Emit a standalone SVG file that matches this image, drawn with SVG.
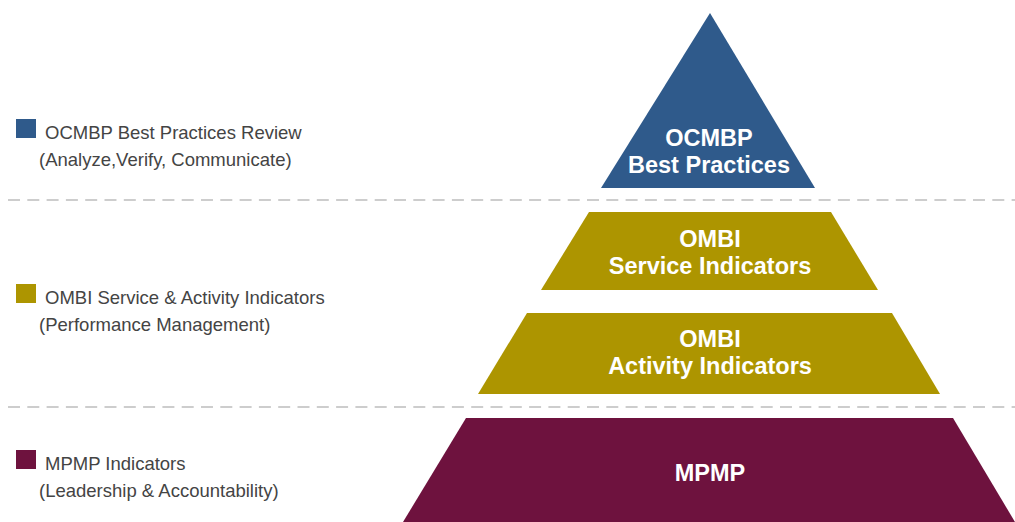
<svg xmlns="http://www.w3.org/2000/svg" width="1015" height="522" viewBox="0 0 1015 522">
<style>
.sep{stroke:#bdbdbd;stroke-width:1.6;stroke-dasharray:12 7.3;fill:none}
.lbl{font-family:"Liberation Sans",Arial,sans-serif;font-weight:bold;font-size:23.5px;fill:#ffffff;text-anchor:middle}
.leg{font-family:"Liberation Sans",Arial,sans-serif;font-size:18.5px;fill:#444444}
.blue{fill:#2f5a8b}
.gold{fill:#ad9500}
.maroon{fill:#6e123e}
</style>
<rect width="1015" height="522" fill="#ffffff"/>
<g id="separators">
<line class="sep" x1="8" y1="200" x2="1015" y2="200"/>
<line class="sep" x1="8" y1="407" x2="1015" y2="407"/>
</g>
<g id="node-ocmbp">
<polygon class="blue" points="710,13 815,188 601,188"/>
<text class="lbl" x="709" y="146">OCMBP</text>
<text class="lbl" x="709" y="172.5">Best Practices</text>
</g>
<g id="node-ombi-service">
<polygon class="gold" points="589,212 831,212 878,290 541,290"/>
<text class="lbl" x="710" y="247">OMBI</text>
<text class="lbl" x="710" y="273.5">Service Indicators</text>
</g>
<g id="node-ombi-activity">
<polygon class="gold" points="527,313 892,313 940,394 478,394"/>
<text class="lbl" x="710" y="347">OMBI</text>
<text class="lbl" x="710" y="373.5">Activity Indicators</text>
</g>
<g id="node-mpmp">
<polygon class="maroon" points="466,418 953,418 1015,522 403,522"/>
<text class="lbl" x="710" y="481">MPMP</text>
</g>
<g id="legend-ocmbp">
<rect class="blue" x="16" y="119" width="20" height="19"/>
<text class="leg" x="45" y="139">OCMBP Best Practices Review</text>
<text class="leg" x="39" y="166">(Analyze,Verify, Communicate)</text>
</g>
<g id="legend-ombi">
<rect class="gold" x="16" y="284" width="20" height="19"/>
<text class="leg" x="45" y="304">OMBI Service &amp; Activity Indicators</text>
<text class="leg" x="39" y="331">(Performance Management)</text>
</g>
<g id="legend-mpmp">
<rect class="maroon" x="16" y="450" width="20" height="19"/>
<text class="leg" x="45" y="470">MPMP Indicators</text>
<text class="leg" x="39" y="497">(Leadership &amp; Accountability)</text>
</g>
</svg>
